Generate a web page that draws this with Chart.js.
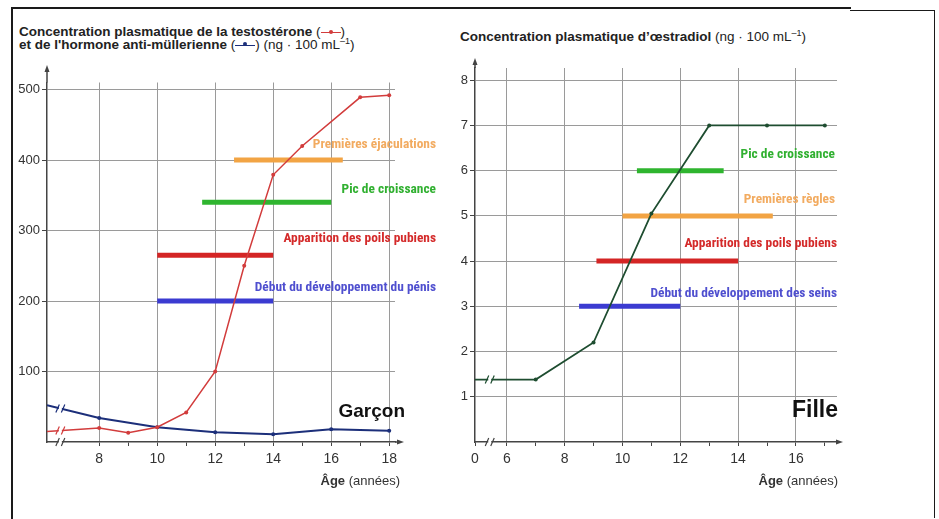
<!DOCTYPE html>
<html>
<head>
<meta charset="UTF-8">
<title>Concentrations hormonales à la puberté</title>
<script src="https://cdn.jsdelivr.net/npm/chart.js"></script>
<style>
  body { margin:0; background:#fff; width:939px; height:519px; overflow:hidden; position:relative;
         font-family:"Liberation Sans", Arial, sans-serif; }
  .frame { position:absolute; background:#1a1a1a; }
  .titre { position:absolute; font-size:13.5px; line-height:12.5px; color:#222; white-space:nowrap; }
  .titre sup { font-size:9px; line-height:0; vertical-align:5px; }
  .sym { display:inline-block; position:relative; width:20px; height:0; border-top:1.5px solid; vertical-align:3px; }
  .sym::after { content:''; position:absolute; left:8px; top:-3.2px; width:4px; height:4px; border-radius:50%; background:currentColor; }
  canvas { position:absolute; top:0; }
</style>
</head>
<body>
<div class="frame" style="left:11px;top:7px;width:1.5px;height:512px"></div>
<div class="frame" style="left:11px;top:7px;width:840px;height:1.5px"></div>
<div class="frame" style="left:850px;top:9.5px;width:85px;height:1.5px"></div>
<div class="frame" style="left:933.5px;top:9.5px;width:1.5px;height:508px"></div>

<div class="titre" style="left:19px;top:26px">
  <b>Concentration plasmatique de la testostérone</b> (<span class="sym" style="color:#d23c3c"></span>)<br>
  <b>et de l'hormone anti-müllerienne</b> (<span class="sym" style="color:#1c2f7a"></span>) (ng · 100 mL<sup>–1</sup>)
</div>
<div class="titre" style="left:460px;top:31px">
  <b>Concentration plasmatique d’œstradiol</b> (ng · 100 mL<sup>–1</sup>)
</div>

<canvas id="garcon" width="450" height="519" style="left:0"></canvas>
<canvas id="fille" width="489" height="519" style="left:450px"></canvas>

<script>
// --- Garçon ---
const ageGarcon = [6.2, 8, 9, 10, 11, 12, 13, 14, 15, 17, 18];
const testosterone = [15, 20, 13, 21, 42, 100, 250, 379, 420, 489, 492];
const ageAmh = [6.2, 8, 10, 12, 14, 16, 18];
const amh = [52, 34, 21, 14, 11, 18, 16];

const evenementsG = ['Premières éjaculations', 'Pic de croissance', 'Apparition des poils pubiens', 'Début du développement du pénis'];
const debutG = [12.65, 11.55, 10, 10];
const finG = [16.4, 16, 14, 14];
const niveauG = [400, 340, 265, 200];

const xTicksG = [8, 9, 10, 11, 12, 13, 14, 15, 16, 17, 18];
const yTicksG = [100, 200, 300, 400, 500];

// --- Fille ---
const ageFille = [4.9, 7, 9, 11, 13, 15, 17];
const oestradiol = [1.38, 1.38, 2.2, 5.05, 7, 7, 7];

const evenementsF = ['Pic de croissance', 'Premières règles', 'Apparition des poils pubiens', 'Début du développement des seins'];
const debutF = [10.5, 10, 9.1, 8.5];
const finF = [13.5, 15.2, 14, 12];
const niveauF = [6, 5, 4, 3];

const xTicksF = [4.9, 6, 7, 8, 9, 10, 11, 12, 13, 14, 15, 16, 17];
const yTicksF = [1, 2, 3, 4, 5, 6, 7, 8];

// styles
const AXE = '#444';
const GRILLE = '#9a9a9a';
const TEXTE = '#333';
const couleursBarresG = ['#f2a444', '#2fb52f', '#d42525', '#3b3bd1'];
const couleursTexteG = ['#f2ab60', '#30b030', '#d42a2a', '#4f4fcf'];
const couleursBarresF = ['#2fb52f', '#f2a444', '#d42525', '#3b3bd1'];
const couleursTexteF = ['#30b030', '#f2ab60', '#d42a2a', '#4f4fcf'];
const POLICE = '"Liberation Sans", Arial, sans-serif';
const POLICE_ETROITE = '"Roboto Condensed", "Liberation Sans", Arial, sans-serif';

Chart.defaults.font.family = POLICE;

function points(xs, ys) {
  return xs.map((x, i) => ({ x: x, y: ys[i] }));
}

function barres(labels, debut, fin, niveau, couleurs) {
  return labels.map((l, i) => ({
    label: l,
    data: [{ x: debut[i], y: niveau[i] }, { x: fin[i], y: niveau[i] }],
    borderColor: couleurs[i],
    borderWidth: 5,
    borderCapStyle: 'butt',
    pointRadius: 0
  }));
}

function courbe(label, xs, ys, couleur, largeur) {
  return {
    label: label,
    data: points(xs, ys),
    borderColor: couleur,
    backgroundColor: couleur,
    borderWidth: largeur,
    pointRadius: c => c.dataIndex === 0 ? 0 : 2,
    pointBorderWidth: 0,
    tension: 0
  };
}

// flèches, coupures d'axe, étiquettes
const habillage = {
  id: 'habillage',
  afterDraw(chart, args, o) {
    const { ctx, chartArea: a, scales: { x, y } } = chart;
    ctx.save();

    // flèches
    ctx.strokeStyle = AXE; ctx.fillStyle = AXE; ctx.lineWidth = 1.5;
    ctx.beginPath();
    ctx.moveTo(a.left, a.top); ctx.lineTo(a.left, a.top - o.flecheHaut);
    ctx.moveTo(a.right, a.bottom); ctx.lineTo(a.right + o.flecheDroite, a.bottom);
    ctx.stroke();
    ctx.beginPath();
    ctx.moveTo(a.left, a.top - o.flecheHaut - 5);
    ctx.lineTo(a.left - 2.5, a.top - o.flecheHaut + 2);
    ctx.lineTo(a.left + 2.5, a.top - o.flecheHaut + 2);
    ctx.fill();
    ctx.beginPath();
    ctx.moveTo(a.right + o.flecheDroite + 5, a.bottom);
    ctx.lineTo(a.right + o.flecheDroite - 2, a.bottom - 2.5);
    ctx.lineTo(a.right + o.flecheDroite - 2, a.bottom + 2.5);
    ctx.fill();

    // coupures //
    const bx = x.getPixelForValue(o.coupure);
    const marques = [{ y: a.bottom, c: AXE }];
    o.coupureCourbes.forEach(i => {
      const pts = chart.getDatasetMeta(i).data;
      const t = (bx - pts[0].x) / (pts[1].x - pts[0].x);
      marques.push({ y: pts[0].y + t * (pts[1].y - pts[0].y), c: chart.data.datasets[i].borderColor });
    });
    marques.forEach(m => {
      ctx.fillStyle = '#fff';
      ctx.fillRect(bx - 1.5, m.y - 3, 3, 6);
      ctx.strokeStyle = m.c; ctx.lineWidth = 1.2;
      ctx.beginPath();
      ctx.moveTo(bx - 4.5, m.y + 4); ctx.lineTo(bx - 1, m.y - 4);
      ctx.moveTo(bx + 1, m.y + 4); ctx.lineTo(bx + 4.5, m.y - 4);
      ctx.stroke();
    });

    // étiquettes des barres
    ctx.textAlign = 'right'; ctx.textBaseline = 'middle';
    ctx.font = 'bold 13.4px ' + POLICE_ETROITE;
    o.etiquettes.forEach((t, i) => {
      ctx.fillStyle = o.couleurs[i];
      ctx.fillText(t, a.right + o.decalX[i], y.getPixelForValue(o.niveaux[i]) - o.decalY[i]);
    });

    // nom
    ctx.fillStyle = '#111';
    ctx.font = o.policeNom;
    ctx.fillText(o.nom, a.right + o.nomX, a.bottom - o.nomY);

    // titre de l'axe des x
    ctx.fillStyle = TEXTE;
    ctx.font = '13px ' + POLICE;
    const suite = ' (années)';
    const xr = a.right + o.ageX;
    ctx.fillText(suite, xr, a.bottom + 39);
    const w = ctx.measureText(suite).width;
    ctx.font = 'bold 13px ' + POLICE;
    ctx.fillText('Âge', xr - w, a.bottom + 39);

    ctx.restore();
  }
};

function echelles(xmin, xmax, xticks, ymax, yticks, largeurY, labelX) {
  return {
    x: {
      type: 'linear', min: xmin, max: xmax,
      afterBuildTicks: s => { s.ticks = xticks.map(v => ({ value: v })); },
      afterFit: s => { s.height = 40; },
      ticks: { callback: labelX, color: TEXTE, font: { size: 14 }, padding: 5, maxRotation: 0, autoSkip: false },
      grid: {
        color: c => (c.tick && c.tick.value % 2 === 0 && c.tick.value !== xmin) ? GRILLE : 'rgba(0,0,0,0)',
        tickColor: AXE, tickLength: 4, lineWidth: 1
      },
      border: { color: AXE, width: 1.5 }
    },
    y: {
      type: 'linear', min: 0, max: ymax,
      afterBuildTicks: s => { s.ticks = yticks.map(v => ({ value: v })); },
      afterFit: s => { s.width = largeurY; },
      ticks: { color: TEXTE, font: { size: 13 }, padding: 2 },
      grid: { color: GRILLE, tickColor: AXE, tickLength: 5, lineWidth: 1 },
      border: { color: AXE, width: 1.5 }
    }
  };
}

new Chart(document.getElementById('garcon'), {
  type: 'line',
  data: {
    datasets: [
      courbe('Testostérone', ageGarcon, testosterone, '#d23c3c', 1.5),
      courbe('Hormone anti-müllerienne', ageAmh, amh, '#1c2f7a', 2),
      ...barres(evenementsG, debutG, finG, niveauG, couleursBarresG)
    ]
  },
  options: {
    responsive: false, animation: false,
    layout: { padding: { left: 0, top: 82.5, right: 55, bottom: 37 } },
    scales: echelles(6.2, 18.2, xTicksG, 510, yTicksG, 47, v => v % 2 === 0 ? String(v) : ''),
    plugins: {
      legend: { display: false }, tooltip: { enabled: false },
      habillage: {
        flecheHaut: 12.5, flecheDroite: 4,
        coupure: 6.66, coupureCourbes: [0, 1],
        etiquettes: evenementsG, niveaux: niveauG, couleurs: couleursTexteG,
        decalX: [41, 41, 41, 41], decalY: [15, 13, 17, 13],
        nom: 'Garçon', policeNom: 'bold 19px ' + POLICE, nomX: 10, nomY: 30,
        ageX: 5
      }
    }
  },
  plugins: [habillage]
});

new Chart(document.getElementById('fille'), {
  type: 'line',
  data: {
    datasets: [
      courbe('Œstradiol', ageFille, oestradiol, '#1e4d30', 1.8),
      ...barres(evenementsF, debutF, finF, niveauF, couleursBarresF)
    ]
  },
  options: {
    responsive: false, animation: false,
    layout: { padding: { left: 0, top: 68, right: 102, bottom: 37 } },
    scales: echelles(4.9, 17.42, xTicksF, 8.27, yTicksF, 25,
      v => v === 4.9 ? '0' : (v % 2 === 0 ? String(v) : '')),
    plugins: {
      legend: { display: false }, tooltip: { enabled: false },
      habillage: {
        flecheHaut: 5, flecheDroite: 1,
        coupure: 5.41, coupureCourbes: [0],
        etiquettes: evenementsF, niveaux: niveauF, couleurs: couleursTexteF,
        decalX: [-2, -2, 0, 0], decalY: [16, 16, 17, 13],
        nom: 'Fille', policeNom: 'bold 23px ' + POLICE, nomX: 1, nomY: 31,
        ageX: 1
      }
    }
  },
  plugins: [habillage]
});
</script>
</body>
</html>
